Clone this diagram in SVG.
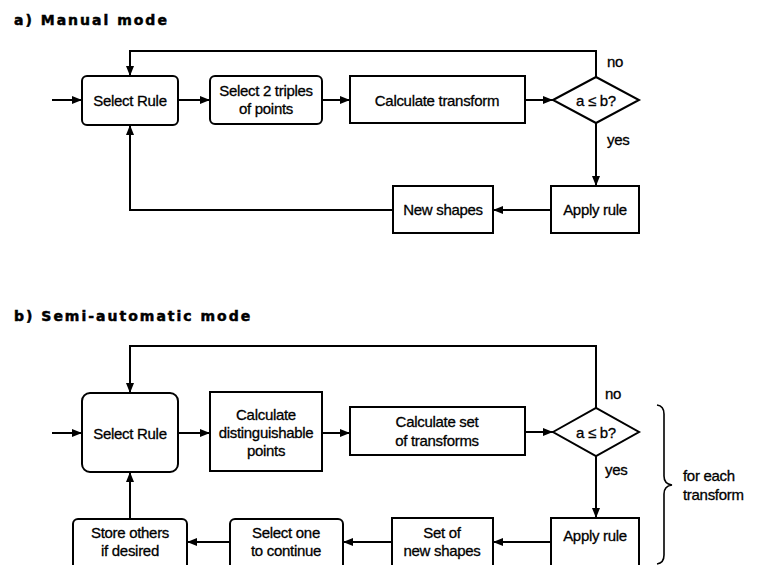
<svg xmlns="http://www.w3.org/2000/svg" width="762" height="565" viewBox="0 0 762 565">
<style>
  .box { fill: #fff; stroke: #000; stroke-width: 2; }
  .ln { fill: none; stroke: #000; stroke-width: 2; }
  .t { font-family: "Liberation Sans", Arial, sans-serif; font-size: 15px; fill: #000; stroke: #000; stroke-width: 0.3; text-anchor: middle; letter-spacing: -0.3px; }
  .tl { font-family: "Liberation Sans", Arial, sans-serif; font-size: 15px; fill: #000; stroke: #000; stroke-width: 0.3; letter-spacing: -0.3px; }
  .title { font-family: "DejaVu Sans", "Liberation Sans", sans-serif; font-size: 14px; font-weight: bold; fill: #000; stroke: #000; stroke-width: 0.5; letter-spacing: 2px; }
</style>
<defs>
  <marker id="ah" markerWidth="10" markerHeight="10" refX="10" refY="5" orient="auto" markerUnits="userSpaceOnUse">
    <path d="M0,1 L10,5 L0,9 z" fill="#000"/>
  </marker>
</defs>
<rect width="762" height="565" fill="#fff"/>

<text class="title" x="14" y="25">a) Manual mode</text>
<text class="title" x="14" y="321">b) Semi-automatic mode</text>

<g id="connectors">
  <!-- part a -->
  <path class="ln" d="M52,100 L82,100" marker-end="url(#ah)"/>
  <path class="ln" d="M178,100 L210,100" marker-end="url(#ah)"/>
  <path class="ln" d="M322,100 L350,100" marker-end="url(#ah)"/>
  <path class="ln" d="M525,100 L553,100" marker-end="url(#ah)"/>
  <path class="ln" d="M596,77 L596,51 L130,51 L130,76" marker-end="url(#ah)"/>
  <path class="ln" d="M596,123 L596,186" marker-end="url(#ah)"/>
  <path class="ln" d="M551,210 L493,210" marker-end="url(#ah)"/>
  <path class="ln" d="M393,210 L130,210 L130,125" marker-end="url(#ah)"/>
  <!-- part b -->
  <path class="ln" d="M52,433 L82,433" marker-end="url(#ah)"/>
  <path class="ln" d="M178,433 L210,433" marker-end="url(#ah)"/>
  <path class="ln" d="M322,433 L350,433" marker-end="url(#ah)"/>
  <path class="ln" d="M525,432 L553,432" marker-end="url(#ah)"/>
  <path class="ln" d="M596,408 L596,346 L130,346 L130,393" marker-end="url(#ah)"/>
  <path class="ln" d="M596,456 L596,518" marker-end="url(#ah)"/>
  <path class="ln" d="M551,542 L493,542" marker-end="url(#ah)"/>
  <path class="ln" d="M392,542 L343,542" marker-end="url(#ah)"/>
  <path class="ln" d="M230,542 L187,542" marker-end="url(#ah)"/>
  <path class="ln" d="M130,519 L130,472" marker-end="url(#ah)"/>
</g>

<g id="a-select-rule">
  <rect class="box" x="82" y="76" width="96" height="49" rx="5"/>
  <text class="t" x="130" y="106">Select Rule</text>
</g>
<g id="a-select-triples">
  <rect class="box" x="210" y="76" width="112" height="48" rx="5"/>
  <text class="t" x="266" y="96">Select 2 triples</text>
  <text class="t" x="266" y="114">of points</text>
</g>
<g id="a-calc-transform">
  <rect class="box" x="350" y="76" width="175" height="47"/>
  <text class="t" x="437" y="106">Calculate transform</text>
</g>
<g id="a-decision">
  <polygon class="box" points="553,100 596,77 639,100 596,123"/>
  <text class="t" x="596" y="106">a ≤ b?</text>
  <text class="tl" x="607" y="67">no</text>
  <text class="tl" x="607" y="145">yes</text>
</g>
<g id="a-apply-rule">
  <rect class="box" x="551" y="186" width="88" height="47"/>
  <text class="t" x="595" y="215">Apply rule</text>
</g>
<g id="a-new-shapes">
  <rect class="box" x="393" y="186" width="100" height="47"/>
  <text class="t" x="443" y="215">New shapes</text>
</g>

<g id="b-select-rule">
  <rect class="box" x="82" y="393" width="96" height="79" rx="8"/>
  <text class="t" x="130" y="439">Select Rule</text>
</g>
<g id="b-calc-points">
  <rect class="box" x="210" y="392" width="112" height="79"/>
  <text class="t" x="266" y="420">Calculate</text>
  <text class="t" x="266" y="438">distinguishable</text>
  <text class="t" x="266" y="456">points</text>
</g>
<g id="b-calc-set">
  <rect class="box" x="350" y="407" width="175" height="48"/>
  <text class="t" x="437" y="427">Calculate set</text>
  <text class="t" x="437" y="446">of transforms</text>
</g>
<g id="b-decision">
  <polygon class="box" points="553,432 596,408 639,432 596,456"/>
  <text class="t" x="596" y="438">a ≤ b?</text>
  <text class="tl" x="605" y="399">no</text>
  <text class="tl" x="605" y="475">yes</text>
</g>
<g id="b-apply-rule">
  <rect class="box" x="551" y="518" width="88" height="52"/>
  <text class="t" x="595" y="541">Apply rule</text>
</g>
<g id="b-new-shapes">
  <rect class="box" x="392" y="518" width="101" height="52"/>
  <text class="t" x="442" y="538">Set of</text>
  <text class="t" x="442" y="556">new shapes</text>
</g>
<g id="b-select-one">
  <rect class="box" x="230" y="519" width="113" height="52" rx="5"/>
  <text class="t" x="286" y="538">Select one</text>
  <text class="t" x="286" y="556">to continue</text>
</g>
<g id="b-store-others">
  <rect class="box" x="73" y="519" width="114" height="52" rx="5"/>
  <text class="t" x="130" y="538">Store others</text>
  <text class="t" x="130" y="556">if desired</text>
</g>
<g id="b-brace">
  <path fill="none" stroke="#000" stroke-width="1.6" d="M657,405 Q664,406 664,414 L664,476 Q664,484 672,485 Q664,486 664,494 L664,555 Q664,563 657,564"/>
  <text class="tl" x="683" y="481">for each</text>
  <text class="tl" x="683" y="500">transform</text>
</g>
</svg>
